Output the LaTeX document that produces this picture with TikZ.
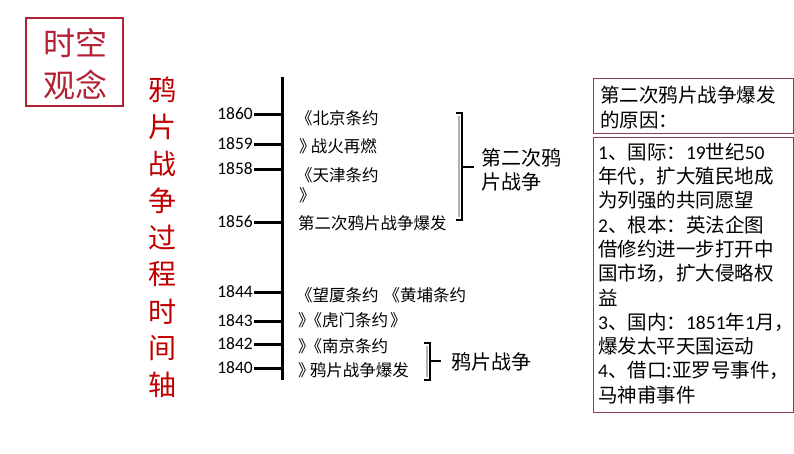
\documentclass[tikz,border=0pt]{standalone}
\usepackage{fontspec}
\setmainfont{Carlito}
\newfontfamily\cjk{Noto Sans CJK SC}
\usetikzlibrary{positioning}

\definecolor{rouge}{RGB}{192,0,0}
\definecolor{rougecadre}{RGB}{178,34,52}
\definecolor{bordeaux}{RGB}{140,62,76}

\newcommand{\chif}[1]{{\rmfamily #1}}

\tikzset{
  annee/.style = {anchor=east, inner sep=1pt, font=\fontsize{17.5}{17.5}\selectfont},
  evenement/.style = {anchor=west, inner sep=0pt, font=\cjk\fontsize{16.5}{16.5}\selectfont},
  guerre/.style = {anchor=west, inner sep=0pt, align=left, font=\cjk\fontsize{20}{24}\selectfont},
  cause/.style = {anchor=west, inner sep=0pt, font=\cjk\fontsize{19.5}{19.5}\selectfont},
  cadre/.style = {draw=bordeaux, line width=1.2pt, anchor=north west, inner sep=0pt},
  accolade/.style = {line width=2.5pt},
  ombre/.style = {line width=1.5pt, gray!60},
}

\begin{document}
\begin{tikzpicture}[x=1pt, y=-1pt]
  \useasboundingbox (0,0) rectangle (794,453);

  % Le titre
  \node[draw=rougecadre, line width=1.5pt, anchor=north west, minimum width=97pt,
        minimum height=88pt] (titre) at (25,17) {};
  \node[text=rougecadre, font=\cjk\fontsize{32}{32}\selectfont] (titre1) at (75,43) {时空};
  \node[text=rougecadre, font=\cjk\fontsize{32}{32}\selectfont] (titre2) at (75,85) {观念};

  % Le titre vertical
  \foreach \c [count=\i] in {鸦,片,战,争,过,程,时,间,轴}
    \node[text=rouge, inner sep=0pt, font=\cjk\fontsize{28}{28}\selectfont]
      (v\i) at (162,{90+(\i-1)*36.9}) {\c};

  % L'axe
  \coordinate (haut) at (282,77);
  \coordinate (bas) at (282,380);
  \draw[line width=3pt] (haut) -- (bas);

  % Les annees
  \foreach \y/\an in {114/1860,144/1859,169/1858,222/1856,292/1844,321/1843,344/1842,368/1840}{
    \node[annee] (a\an) at (254,\y) {\an};
    \coordinate (t\an) at (282,\y);
    \draw[line width=3pt] (a\an.east) -- (t\an);
  }

  % Les evenements
  \node[evenement] (e1) at (296,118) {《北京条约};
  \node[evenement] (e2) at (299,146) {》\kern-.3em战火再燃};
  \node[evenement] (e3) at (296,175) {《天津条约};
  \node[evenement] (e4) at (299,195) {》};
  \node[evenement] (e5) at (298,223) {第二次鸦片战争爆发};
  \node[evenement] (e6) at (296,295) {《望厦条约\kern5pt《黄埔条约};
  \node[evenement] (e7) at (298,320) {》\kern-.55em《虎门条约\kern2pt》};
  \node[evenement] (e8) at (298,346) {》\kern-.55em《南京条约};
  \node[evenement] (e9) at (298,370) {》\kern-.3em鸦片战争爆发};

  % L'accolade : seconde guerre
  \coordinate (s1) at (456,113);
  \coordinate (s2) at (462,113);
  \coordinate (s3) at (462,220);
  \coordinate (s4) at (456,220);
  \coordinate (sm) at (462,167);
  \coordinate (sb) at (474,167);
  \draw[ombre] (459,116) -- (459,217);
  \draw[accolade] (s1) -- (s2) -- (s3) -- (s4);
  \draw[accolade] (sm) -- (sb);
  \node[guerre] (g2) at (481,170) {第二次鸦\\片战争};

  % L'accolade : premiere guerre
  \coordinate (p1) at (424,343);
  \coordinate (p2) at (430,343);
  \coordinate (p3) at (430,380);
  \coordinate (p4) at (424,380);
  \coordinate (pm) at (430,361);
  \coordinate (pb) at (441,361);
  \draw[ombre] (427,346) -- (427,377);
  \draw[accolade] (p1) -- (p2) -- (p3) -- (p4);
  \draw[accolade] (pm) -- (pb);
  \node[guerre] (g1) at (451,362) {鸦片战争};

  % Les causes
  \node[cadre, minimum width=200pt, minimum height=55pt] (tete) at (593,78) {};
  \node[cause] (c1) at (600,95) {第二次鸦片战争爆发};
  \node[cause] (c2) at (600,120) {的原因：};
  \node[cadre, minimum width=200pt, minimum height=275pt] (corps) at (593,137) {};
  \foreach \txt [count=\i] in {\chif{1}、国际：\chif{19}世纪\chif{50},年代，扩大殖民地成,为列强的共同愿望,
      \chif{2}、根本：英法企图,借修约进一步打开中,国市场，扩大侵略权,益,
      \chif{3}、国内：\chif{1851}年\chif{1}月\makebox[.5em][l]{，},爆发太平天国运动,
      \chif{4}、借口:亚罗号事件\makebox[.5em][l]{，},马神甫事件}
    \node[cause] (l\i) at (598,{152+(\i-1)*24.3}) {\txt};

\end{tikzpicture}
\end{document}
